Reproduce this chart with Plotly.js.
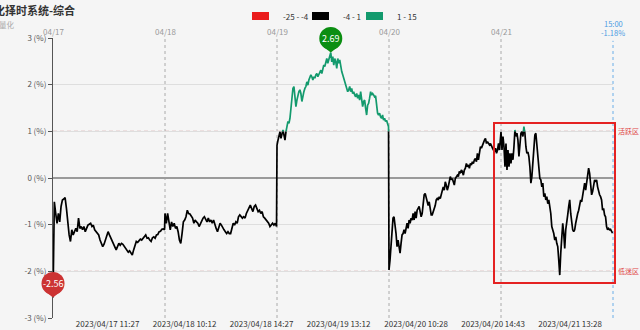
<!DOCTYPE html>
<html><head><meta charset="utf-8">
<script src="https://cdn.plot.ly/plotly-3.0.1.min.js"></script>
<style>html,body{margin:0;padding:0;background:#f5f5f5;}#chart{width:640px;height:330px;}</style>
</head><body><div id="chart"></div>
<script>
// ---------- data ----------
const dayLabels = ['04/17','04/18','04/19','04/20','04/21'];
const day1 = [-2.56,-0.51,-0.76,-0.97,-0.76,-0.94,-0.61,-0.47,-0.45,-0.42,-0.65,-0.97,-1.22,-1.36,-1.11,-1.22,-1.15,-1.08,-1.15,-0.86,-1.08,-1.04,-1.11,-1.04,-1.15,-1.06,-1.01,-0.99,-0.97,-1.04,-1.01,-1.11,-1.15,-1.19,-1.22,-1.33,-1.40,-1.47,-1.42,-1.33,-1.26,-1.15,-1.22,-1.29,-1.35,-1.40,-1.47,-1.54,-1.47,-1.40,-1.44,-1.40,-1.42,-1.46,-1.51,-1.56,-1.59,-1.56,-1.61,-1.65,-1.54,-1.44,-1.36,-1.38,-1.35,-1.31,-1.33,-1.29,-1.27,-1.22,-1.29,-1.28,-1.33,-1.36,-1.28,-1.26,-1.29,-1.22,-1.21,-1.15,-1.14,-1.10,-1.09,-1.11];
const day2 = [-0.76,-0.97,-0.76,-0.90,-1.11,-0.94,-1.04,-0.97,-1.08,-1.04,-1.15,-1.33,-1.40,-1.19,-0.94,-0.90,-0.83,-0.69,-0.76,-0.77,-0.83,-0.86,-0.97,-0.90,-0.94,-0.97,-1.04,-0.97,-0.90,-0.86,-0.83,-0.90,-0.94,-0.86,-0.94,-0.90,-0.97,-0.90,-1.01,-1.08,-1.15,-1.04,-0.97,-1.01,-1.08,-1.11,-1.15,-1.19,-1.15,-1.19,-1.19,-1.08,-0.97,-1.01,-0.94,-0.97,-0.83,-0.79,-0.83,-0.86,-0.83,-0.86,-0.76,-0.69,-0.61,-0.58,-0.65,-0.72,-0.61,-0.58,-0.65,-0.72,-0.69,-0.76,-0.72,-0.83,-0.86,-0.90,-0.94,-0.97,-1.04,-1.01,-0.97,-1.01,-0.97,-1.04];
const day3 = [0.70,0.81,0.92,0.99,0.85,0.95,1.03,0.92,0.81,0.99,1.14,1.21,1.17,1.28,1.49,1.74,1.92,1.96,1.64,1.53,1.67,1.78,1.85,1.89,1.81,1.64,1.78,1.85,1.92,1.96,2.06,1.99,2.10,2.14,2.21,2.17,2.10,2.17,2.14,2.21,2.24,2.17,2.21,2.28,2.31,2.24,2.35,2.42,2.39,2.49,2.56,2.46,2.53,2.65,2.69,2.49,2.60,2.42,2.56,2.49,2.35,2.56,2.46,2.53,2.35,2.28,2.21,2.14,2.10,2.03,1.96,1.85,1.89,1.96,1.85,1.92,1.81,1.85,1.78,1.74,1.81,1.71,1.78,1.67,1.85,1.71,1.53,1.64,1.67,1.49,1.35,1.56,1.60,1.71,1.85,1.78,1.81,1.78,1.74,1.76,1.56,1.39,1.35,1.39,1.31,1.28,1.35,1.24,1.28,1.21,1.24,1.17,1.10];
const day4 = [-1.97,-1.76,-1.47,-1.11,-0.86,-0.83,-0.97,-1.19,-1.47,-1.33,-1.47,-1.61,-1.40,-1.22,-1.19,-1.11,-1.19,-1.04,-0.97,-1.08,-0.90,-0.97,-0.86,-0.90,-0.76,-0.90,-0.72,-0.86,-0.69,-0.65,-0.61,-0.72,-0.83,-0.76,-0.59,-0.36,-0.33,-0.40,-0.47,-0.59,-0.51,-0.69,-0.79,-0.79,-0.72,-0.69,-0.59,-0.47,-0.44,-0.47,-0.40,-0.44,-0.33,-0.29,-0.19,-0.26,-0.08,-0.15,-0.26,-0.19,-0.04,0.03,-0.04,-0.01,-0.08,-0.15,-0.01,0.03,0.06,0.03,0.14,0.10,0.17,0.14,0.06,0.17,0.21,0.31,0.24,0.28,0.21,0.31,0.28,0.35,0.31,0.39,0.42,0.35,0.53,0.39,0.56,0.67,0.64,0.71,0.74,0.81,0.85,0.74,0.78,0.74,0.71,0.74,0.67,0.64,0.60,0.56,0.64,0.53,0.60,0.74,0.60,0.81];
const day5 = [0.99,0.60,0.89,0.67,0.24,0.74,0.17,0.60,0.24,0.53,0.31,0.53,0.39,0.67,1.03,0.89,0.96,0.81,0.46,0.67,0.96,0.99,0.89,1.10,0.96,0.67,0.53,0.56,0.46,0.24,-0.11,0.03,0.31,0.60,0.92,0.96,0.67,0.39,0.10,-0.01,-0.04,-0.19,-0.11,-0.40,-0.33,-0.47,-0.40,-0.55,-0.47,-0.61,-0.76,-1.04,-1.11,-1.19,-1.33,-1.26,-1.40,-1.47,-1.76,-2.08,-1.61,-1.19,-0.97,-1.19,-1.51,-1.11,-0.86,-0.79,-0.61,-0.47,-0.76,-1.04,-1.11,-1.15,-1.11,-0.97,-0.83,-0.76,-0.69,-0.55,-0.47,-0.51,-0.36,-0.29,-0.11,-0.26,-0.08,0.10,0.21,0.10,-0.08,-0.36,-0.29,-0.19,-0.04,-0.08,-0.04,-0.19,-0.29,-0.36,-0.40,-0.47,-0.69,-0.65,-0.79,-0.83,-1.04,-1.11,-1.08,-1.11,-1.10,-1.15,-1.18];
const bottomTickLabels = ['2023/04/17 11:27','2023/04/18 10:12','2023/04/18 14:27','2023/04/19 13:12','2023/04/20 10:28','2023/04/20 14:43','2023/04/21 13:28'];
const yTicks = [-3,-2,-1,0,1,2,3];
const pieceLo = [-25,-4,1];
const pieceHi = [-4,1,15];
const pieceColors = ['#ea1c1c','#000000','#139a6d'];
const pieceLabels = ['-25 - -4','-4 - 1','1 - 15'];
const zoneValues = [1,-2];
const zoneLabels = ['活跃区','低迷区'];
const lastTime = '15:00';
const titleText = '量化择时系统-综合';
const subtitleText = '量化';

// ---------- build ----------
const MIN_PER_DAY = 240;
const days = [day1,day2,day3,day4,day5];
const X=[],Y=[];
days.forEach((arr,d)=>{const n=arr.length;arr.forEach((v,i)=>{X.push(d*MIN_PER_DAY+i*(MIN_PER_DAY-1)/(n-1));Y.push(v);});});
const XR=[0,MIN_PER_DAY*days.length], YR=[-3,3];

function minuteOf(label){
  const [date,time]=label.split(' ');
  const d=dayLabels.indexOf(date.slice(5));
  const [h,m]=time.split(':').map(Number);
  let mm=h*60+m-(9*60+30);
  if(h>=13) mm-=90;
  return d*MIN_PER_DAY+mm;
}

function clipTrace(lo,hi){
  const px=[],py=[];let cont=false;
  for(let i=1;i<X.length;i++){
    const x0=X[i-1],y0=Y[i-1],x1=X[i],y1=Y[i];
    let t0=0,t1=1;
    if(y1!==y0){
      const ta=(lo-y0)/(y1-y0),tb=(hi-y0)/(y1-y0);
      t0=Math.max(0,Math.min(ta,tb));t1=Math.min(1,Math.max(ta,tb));
    } else if(y0<lo||y0>hi){t0=1;t1=0;}
    if(t0>=t1){cont=false;continue;}
    if(!(cont&&t0===0)){ if(px.length){px.push(null);py.push(null);} px.push(x0+t0*(x1-x0));py.push(y0+t0*(y1-y0)); }
    px.push(x0+t1*(x1-x0));py.push(y0+t1*(y1-y0));
    cont=(t1===1);
  }
  return {px,py};
}

const traces = pieceLo.map((lo,k)=>{const c=clipTrace(lo,pieceHi[k]);return {type:'scatter',mode:'lines',x:c.px,y:c.py,line:{color:pieceColors[k],width:1.7},hoverinfo:'skip',showlegend:false,connectgaps:false};});

const M={l:53,r:27,t:38,b:12},W=640,H=330,PW=W-M.l-M.r,PH=H-M.t-M.b;
const pxX=p=>(p-M.l)/PW, pxY=p=>(H-M.b-p)/PH;
const dX=x=>(x-XR[0])/(XR[1]-XR[0]), dY=y=>(y-YR[0])/(YR[1]-YR[0]);
const FONT='"Noto Sans CJK SC", "Noto Sans", sans-serif';

const shapes=[], ann=[];
for(let d=1; d<days.length; d++) shapes.push({type:'line',xref:'paper',yref:'paper',x0:dX(d*MIN_PER_DAY),x1:dX(d*MIN_PER_DAY),y0:0,y1:1,line:{color:'#aaaaaa',width:1,dash:'3px,3px'},layer:'between'});
shapes.push({type:'line',xref:'paper',yref:'paper',x0:1,x1:1,y0:0,y1:0.99,line:{color:'#6aaee8',width:1,dash:'3px,3px'},layer:'between'});
zoneValues.forEach((v,k)=>{
  shapes.push({type:'line',xref:'paper',yref:'paper',x0:0,x1:1,y0:dY(v),y1:dY(v),line:{color:'#c47878',width:1,dash:'4px,3px'},layer:'between'});
  ann.push({xref:'paper',yref:'paper',x:pxX(616),y:dY(v),xanchor:'left',yanchor:'middle',text:zoneLabels[k],showarrow:false,font:{family:FONT,size:7,color:'#e04545'}});
});
shapes.push({type:'rect',xref:'paper',yref:'paper',x0:pxX(494),x1:pxX(615),y0:pxY(283),y1:pxY(123),line:{color:'#e42222',width:2},fillcolor:'rgba(0,0,0,0)',layer:'above'});

function pin(xv,yv,color){
  const xa=dX(xv), ya=dY(yv);
  shapes.push({type:'path',xref:'paper',yref:'paper',xsizemode:'pixel',ysizemode:'pixel',xanchor:xa,yanchor:ya,path:'M -7 5.4 L 0 0 L 7 5.4 Z',fillcolor:color,line:{width:0}});
  shapes.push({type:'circle',xref:'paper',yref:'paper',xsizemode:'pixel',ysizemode:'pixel',xanchor:xa,yanchor:ya,x0:-11.5,x1:11.5,y0:2.5,y1:25.5,fillcolor:color,line:{width:0}});
  ann.push({xref:'paper',yref:'paper',x:xa,y:ya,yshift:14,xanchor:'center',yanchor:'middle',text:yv.toFixed(2),showarrow:false,font:{family:FONT,size:9,color:'#ffffff'}});
}
let iMax=0,iMin=0;
Y.forEach((v,i)=>{if(v>Y[iMax])iMax=i;if(v<Y[iMin])iMin=i;});
pin(X[iMax],Y[iMax],'#0b8e12');
pin(X[iMin],Y[iMin],'#cc3333');

dayLabels.forEach((l,d)=>ann.push({xref:'paper',yref:'paper',x:dX(d*MIN_PER_DAY),y:pxY(31),xanchor:'center',yanchor:'middle',text:l,showarrow:false,font:{family:FONT,size:8,color:'#999999'}}));
const lastVal=Y[Y.length-1];
ann.push({xref:'paper',yref:'paper',x:1,y:pxY(23.8),xanchor:'center',yanchor:'middle',text:lastTime,showarrow:false,font:{family:FONT,size:7.5,color:'#4a9ae2'}});
ann.push({xref:'paper',yref:'paper',x:1,y:pxY(32),xanchor:'center',yanchor:'middle',text:lastVal.toFixed(2)+'%',showarrow:false,font:{family:FONT,size:7.5,color:'#4a9ae2'}});

ann.push({xref:'paper',yref:'paper',x:pxX(-19),y:pxY(10.5),xanchor:'left',yanchor:'middle',text:'<b>'+titleText+'</b>',showarrow:false,font:{family:FONT,size:11,color:'#333333'}});
ann.push({xref:'paper',yref:'paper',x:pxX(-3),y:pxY(25),xanchor:'left',yanchor:'middle',text:subtitleText,showarrow:false,font:{family:FONT,size:7.5,color:'#aaaaaa'}});

const legRectX=[252,312,366], legTextX=[281,341,395];
pieceColors.forEach((c,k)=>{
  shapes.push({type:'rect',xref:'paper',yref:'paper',x0:pxX(legRectX[k]),x1:pxX(legRectX[k]+17),y0:pxY(20),y1:pxY(12),fillcolor:c,line:{width:0}});
  ann.push({xref:'paper',yref:'paper',x:pxX(legTextX[k]),y:pxY(16),xanchor:'left',yanchor:'middle',text:pieceLabels[k],showarrow:false,font:{family:FONT,size:8,color:'#333333'}});
});

const layout={
  width:W,height:H,margin:M,
  paper_bgcolor:'#f5f5f5',plot_bgcolor:'#f5f5f5',
  showlegend:false,
  font:{family:FONT,size:8,color:'#555'},
  xaxis:{range:XR,tickvals:bottomTickLabels.map(minuteOf),ticktext:bottomTickLabels,showgrid:false,zeroline:false,showline:false,ticks:'',tickfont:{family:FONT,size:8,color:'#333'},fixedrange:true},
  yaxis:{range:YR,tickvals:yTicks,ticktext:yTicks.map(v=>v+' (%)'),showgrid:true,gridcolor:'#dedede',gridwidth:1,zeroline:true,zerolinecolor:'#9a9a9a',zerolinewidth:2,showline:true,linecolor:'#555555',linewidth:1,ticks:'outside',ticklen:4,tickcolor:'#555555',tickfont:{family:FONT,size:8,color:'#555'},fixedrange:true},
  shapes:shapes,annotations:ann
};
Plotly.newPlot('chart',traces,layout,{displayModeBar:false,staticPlot:true});
</script></body></html>
